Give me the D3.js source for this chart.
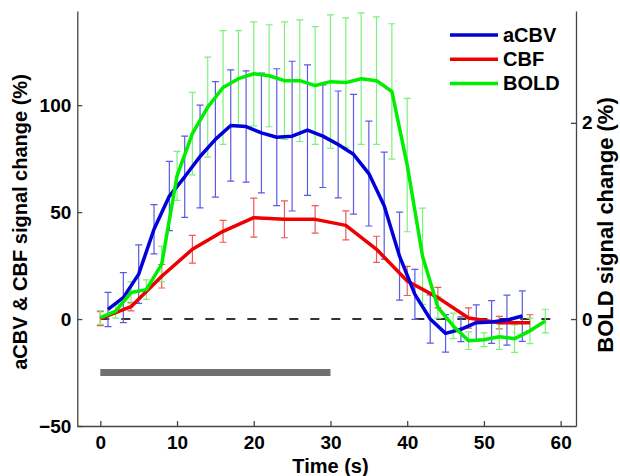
<!DOCTYPE html>
<html>
<head>
<meta charset="utf-8">
<script src="https://cdn.jsdelivr.net/npm/d3@7"></script>
<style>
  body { margin: 0; background: #fff; }
  text { font-family: "Liberation Sans", Arial, sans-serif; font-weight: bold; }
</style>
</head>
<body>
<svg id="chart" width="620" height="476"></svg>
<script>
// aCBV (%), sampled at odd seconds
var cbvT    = [1,3,5,7,9,11,13,15,17,19,21,23,25,27,29,31,33,35,37,39,41,43,45,47,49,51,53,55];
var cbvMean = [4.5,10,21,42,57.5,66.5,76,84,90.5,90,87,85,85.5,88.3,85.5,81.6,77,68,53,29.4,11.5,0,-6.7,-4.8,-1.7,-1.4,-0.5,1.4];
var cbvErr  = [8,11.7,13.7,11.5,16.2,19,24,27,26,26,28,32,35,30.5,24,25,28,24.5,25,20.6,11.7,11.3,8.8,5.8,8.3,10,11.7,11.8];

// CBF (%), every 4 s
var cbfT    = [0,4,8,12,16,20,24,28,32,36,40,44,48,52,56];
var cbfMean = [0.2,5.8,20,32.6,41,47.4,46.6,46.6,43.8,32.6,17.8,10,0.5,-1.7,-1.7];
var cbfErr  = [3.3,2,5.5,6.5,5.1,9.1,8.6,6.4,6.8,6.1,6.8,4.8,4.7,2.9,3.7];

// BOLD (%), every 2 s, right axis
var boldT    = [0,2,4,6,8,10,12,14,16,18,20,22,24,26,28,30,32,34,36,38,40,42,44,46,48,50,52,54,56,58];
var boldMean = [0.015,0.08,0.27,0.30,0.56,1.46,1.89,2.16,2.36,2.45,2.50,2.48,2.43,2.43,2.38,2.42,2.41,2.45,2.43,2.32,1.57,0.64,0.12,-0.07,-0.22,-0.21,-0.18,-0.20,-0.12,-0.02];
var boldErr  = [0.07,0.07,0.11,0.10,0.18,0.25,0.42,0.51,0.58,0.49,0.53,0.52,0.60,0.62,0.60,0.68,0.66,0.67,0.65,0.69,0.68,0.49,0.11,0.13,0.09,0.07,0.13,0.14,0.13,0.12];

var stimBlock = [0, 30];
var baseline  = [0, 59];

var xTicks  = [0,10,20,30,40,50,60];
var yLTicks = [-50,0,50,100];
var yRTicks = [0,2];

var series = [
    { name: "aCBV", t: cbvT,  m: cbvMean,  e: cbvErr,  col: "#0000d8", bar: "#5a5ae6", right: false },
    { name: "CBF",  t: cbfT,  m: cbfMean,  e: cbfErr,  col: "#ee0000", bar: "#ee5a5a", right: false },
    { name: "BOLD", t: boldT, m: boldMean, e: boldErr, col: "#00ee00", bar: "#7ef07e", right: true }
];

var svg = d3.select("#chart");
var x  = d3.scaleLinear().domain([-3, 62]).range([77.3, 576]);
var yL = d3.scaleLinear().domain([-50, 144]).range([426, 11]);
var yR = d3.scaleLinear().domain([-1.09, 3.14]).range([426, 11]);

// stimulus bar and zero line
svg.append("line")
    .attr("x1", x(stimBlock[0])).attr("x2", x(stimBlock[1]))
    .attr("y1", yL(-25)).attr("y2", yL(-25))
    .attr("stroke", "#707070").attr("stroke-width", 7);
svg.append("line")
    .attr("x1", x(baseline[0])).attr("x2", x(baseline[1]))
    .attr("y1", yL(0)).attr("y2", yL(0))
    .attr("stroke", "#333").attr("stroke-width", 2)
    .attr("stroke-dasharray", "9,12");

// error bars
series.forEach(function(s) {
    var y = s.right ? yR : yL;
    var pts = s.t.map((t,i) => ({ t: t, m: s.m[i], e: s.e[i] }));
    var g = svg.append("g").attr("stroke", s.bar).attr("stroke-width", 1.2).attr("fill", "none");
    g.selectAll("path").data(pts).enter().append("path")
        .attr("d", d => {
            var cx = x(d.t), y0 = y(d.m - d.e), y1 = y(d.m + d.e);
            return "M" + cx + "," + y0 + "V" + y1 +
                   "M" + (cx-3.5) + "," + y0 + "H" + (cx+3.5) +
                   "M" + (cx-3.5) + "," + y1 + "H" + (cx+3.5);
        });
});

// mean lines
[1, 0, 2].forEach(function(k) {
    var s = series[k];
    var y = s.right ? yR : yL;
    var line = d3.line().x((d,i) => x(s.t[i])).y(d => y(d));
    svg.append("path").datum(s.m).attr("d", line)
        .attr("fill", "none").attr("stroke", s.col)
        .attr("stroke-width", 3.5).attr("stroke-linejoin", "round");
});

// axes
function styleAxis(g) {
    g.selectAll("path, line").attr("stroke", "#444").attr("stroke-width", 1.3);
    g.selectAll("text").attr("font-size", 19).attr("fill", "#000")
        .attr("font-family", "Liberation Sans, Arial, sans-serif");
}
svg.append("g").attr("transform", "translate(0,426)")
    .call(d3.axisBottom(x).tickValues(xTicks).tickSizeInner(-5).tickSizeOuter(0).tickPadding(10))
    .call(styleAxis);
svg.append("g").attr("transform", "translate(77.3,0)")
    .call(d3.axisLeft(yL).tickValues(yLTicks).tickFormat(d => d < 0 ? "\u2212" + (-d) : d)
          .tickSizeInner(-5).tickSizeOuter(0).tickPadding(6))
    .call(styleAxis);
svg.append("g").attr("transform", "translate(576,0)")
    .call(d3.axisRight(yR).tickValues(yRTicks).tickFormat(d3.format("d"))
          .tickSizeInner(-5).tickSizeOuter(0).tickPadding(6))
    .call(styleAxis);

// axis titles
svg.append("text").attr("transform", "translate(27,222) rotate(-90)")
    .attr("text-anchor", "middle").attr("font-size", 20)
    .text("aCBV & CBF signal change (%)");
svg.append("text").attr("transform", "translate(613,225) rotate(-90)")
    .attr("text-anchor", "middle").attr("font-size", 22)
    .text("BOLD signal change (%)");
svg.append("text").attr("x", x(30)).attr("y", 473)
    .attr("text-anchor", "middle").attr("font-size", 20)
    .text("Time (s)");

// legend
var leg = svg.append("g");
series.forEach(function(s, i) {
    var ly = 35 + i * 24.2;
    leg.append("line").attr("x1", 450).attr("x2", 498).attr("y1", ly).attr("y2", ly)
        .attr("stroke", s.col).attr("stroke-width", 3.5);
    leg.append("text").attr("x", 503).attr("y", ly + 7)
        .attr("font-size", 20).text(s.name);
});
</script>
</body>
</html>
